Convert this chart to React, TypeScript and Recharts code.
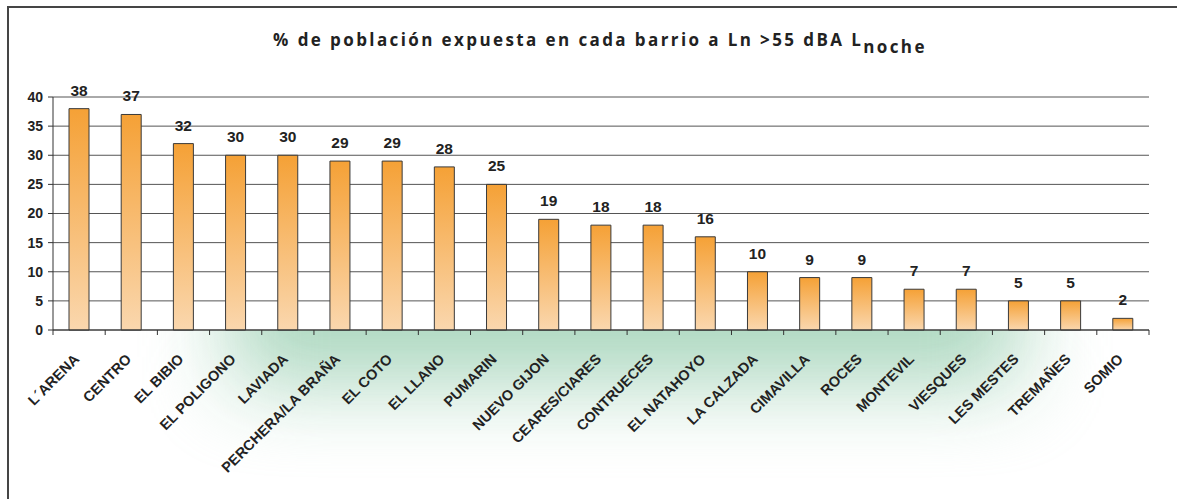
import React from 'react';
import { BarChart, Bar, XAxis, YAxis, CartesianGrid, LabelList } from 'recharts';

const categories = [
  "L´ARENA", "CENTRO", "EL BIBIO", "EL POLIGONO", "LAVIADA", "PERCHERA/LA BRAÑA",
  "EL COTO", "EL LLANO", "PUMARIN", "NUEVO GIJON", "CEARES/CIARES", "CONTRUECES",
  "EL NATAHOYO", "LA CALZADA", "CIMAVILLA", "ROCES", "MONTEVIL", "VIESQUES",
  "LES MESTES", "TREMAÑES", "SOMIO",
];
const values = [38, 37, 32, 30, 30, 29, 29, 28, 25, 19, 18, 18, 16, 10, 9, 9, 7, 7, 5, 5, 2];
const yTicks = [0, 5, 10, 15, 20, 25, 30, 35, 40];
const titleMain = "% de población expuesta en cada barrio a Ln >55 dBA L";
const titleSub = "noche";

const data = categories.map((name, i) => ({ name, value: values[i] }));

const W = 1177;
const H = 499;
const M = { top: 97, right: 28, left: 0, bottom: 0 };
const Y_W = 53;
const X_H = 169;
const HALF_BAND = (W - M.left - Y_W - M.right) / categories.length / 2;

const FONT = "Arial, 'Liberation Sans', sans-serif";

const XTick = (props: any) => {
  const { x, y, payload, index } = props;
  const tx = x + 1;
  const ty = y + 30;
  return (
    <g>
      <line x1={x - HALF_BAND} x2={x - HALF_BAND} y1={y} y2={y + 5} stroke="#333" strokeWidth={1} />
      {index === categories.length - 1 && (
        <line x1={x + HALF_BAND} x2={x + HALF_BAND} y1={y} y2={y + 5} stroke="#333" strokeWidth={1} />
      )}
      <text
        x={tx}
        y={ty}
        transform={`rotate(-45 ${tx} ${ty})`}
        textAnchor="end"
        fontFamily={FONT}
        fontWeight="bold"
        fontSize={14.5}
        fill="#222"
      >
        {payload.value}
      </text>
    </g>
  );
};

export default function App() {
  return (
    <div style={{ position: 'absolute', left: 0, top: 0, width: W, height: H, overflow: 'hidden', background: '#fff' }}>
      <div
        style={{
          position: 'absolute', left: 230, top: 225, width: 790, height: 160,
          background: '#a9d6bd', filter: 'blur(42px)', opacity: 0.95,
        }}
      />
      <div
        style={{
          position: 'absolute', left: 7, top: 6, width: 1300, height: 700,
          border: '2px solid #454545', boxSizing: 'border-box',
        }}
      />
      <svg style={{ position: 'absolute', left: 0, top: 0 }} width={W} height={H}>
        <text
          x={600}
          y={46}
          textAnchor="middle"
          fontFamily="'Open Sans', sans-serif"
          fontWeight="bold"
          fontSize={17}
          letterSpacing={2.4}
          fill="#222"
        >
          {titleMain}
          <tspan dy={7}>{titleSub}</tspan>
        </text>
      </svg>
      <div style={{ position: 'absolute', left: 0, top: 0 }}>
        <BarChart width={W} height={H} data={data} margin={M} barSize={20}>
          <defs>
            <linearGradient id="barGrad" x1="0" y1="0" x2="0" y2="1">
              <stop offset="0%" stopColor="#F5A136" />
              <stop offset="100%" stopColor="#FAD7AE" />
            </linearGradient>
          </defs>
          <CartesianGrid vertical={false} stroke="#555" fill="#fff" fillOpacity={1} />
          <XAxis
            dataKey="name"
            height={X_H}
            interval={0}
            tickLine={false}
            tickSize={0}
            tickMargin={0}
            axisLine={{ stroke: '#333' }}
            tick={<XTick />}
          />
          <YAxis
            width={Y_W}
            domain={[0, 40]}
            ticks={yTicks}
            interval={0}
            tickSize={5}
            tickMargin={5}
            axisLine={{ stroke: '#333' }}
            tickLine={{ stroke: '#333' }}
            tick={{ fontFamily: FONT, fontWeight: 'bold', fontSize: 14, fill: '#222' }}
          />
          <YAxis
            yAxisId="right"
            orientation="right"
            width={0}
            domain={[0, 40]}
            tick={false}
            tickLine={false}
            axisLine={{ stroke: '#333' }}
          />
          <Bar dataKey="value" fill="url(#barGrad)" stroke="#3a3a3a" strokeWidth={1} isAnimationActive={false}>
            <LabelList
              dataKey="value"
              position="top"
              offset={13}
              style={{ fontFamily: FONT, fontWeight: 'bold', fontSize: 15.5, fill: '#222' }}
            />
          </Bar>
        </BarChart>
      </div>
    </div>
  );
}
